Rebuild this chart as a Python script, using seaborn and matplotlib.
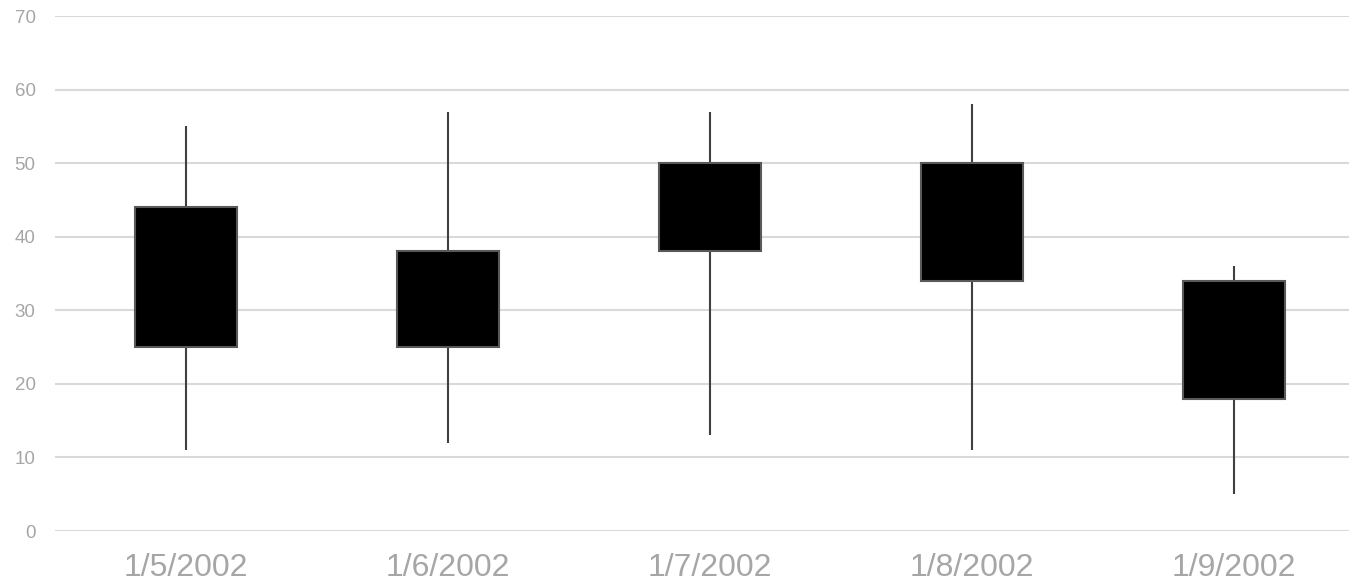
import numpy as np
import matplotlib
matplotlib.use("Agg")
import matplotlib.pyplot as plt
import seaborn as sns

dates = ["1/5/2002", "1/6/2002", "1/7/2002", "1/8/2002", "1/9/2002"]
open_vals = [44, 25, 50, 50, 18]
close_vals = [25, 38, 38, 34, 34]
high_vals = [55, 57, 57, 58, 36]
low_vals = [11, 12, 13, 11, 5]

sns.set_style("whitegrid")
plt.rcParams['font.family'] = ['Liberation Sans', 'DejaVu Sans']

fig = plt.figure(figsize=(13.49, 5.87), dpi=100)
ax = fig.add_axes([0.0408, 0.0954, 0.9592, 0.8773])

x = np.arange(len(dates))
lower = np.minimum(open_vals, close_vals)
upper = np.maximum(open_vals, close_vals)

# wicks behind the bodies
ax.vlines(x, low_vals, high_vals, color="#404040", linewidth=1.5, zorder=2)
ax.bar(x, upper - lower, bottom=lower, width=0.39, color="black",
       edgecolor="#595959", linewidth=1.5, zorder=3)

ax.set_ylim(0, 70)
ax.set_yticks(range(0, 71, 10))
ax.set_xlim(-0.5, 4.44)
ax.set_xticks(x)
ax.set_xticklabels(dates)

ax.grid(axis="y", color="#d9d9d9", linewidth=1.5)
ax.grid(axis="x", visible=False)
for s in ax.spines.values():
    s.set_visible(False)
ax.tick_params(axis="y", length=0, labelsize=13.5, labelcolor="#a6a6a6", pad=14)
ax.tick_params(axis="x", length=0, labelsize=23, labelcolor="#a6a6a6", pad=16)

fig.savefig("out.png", dpi=100)
